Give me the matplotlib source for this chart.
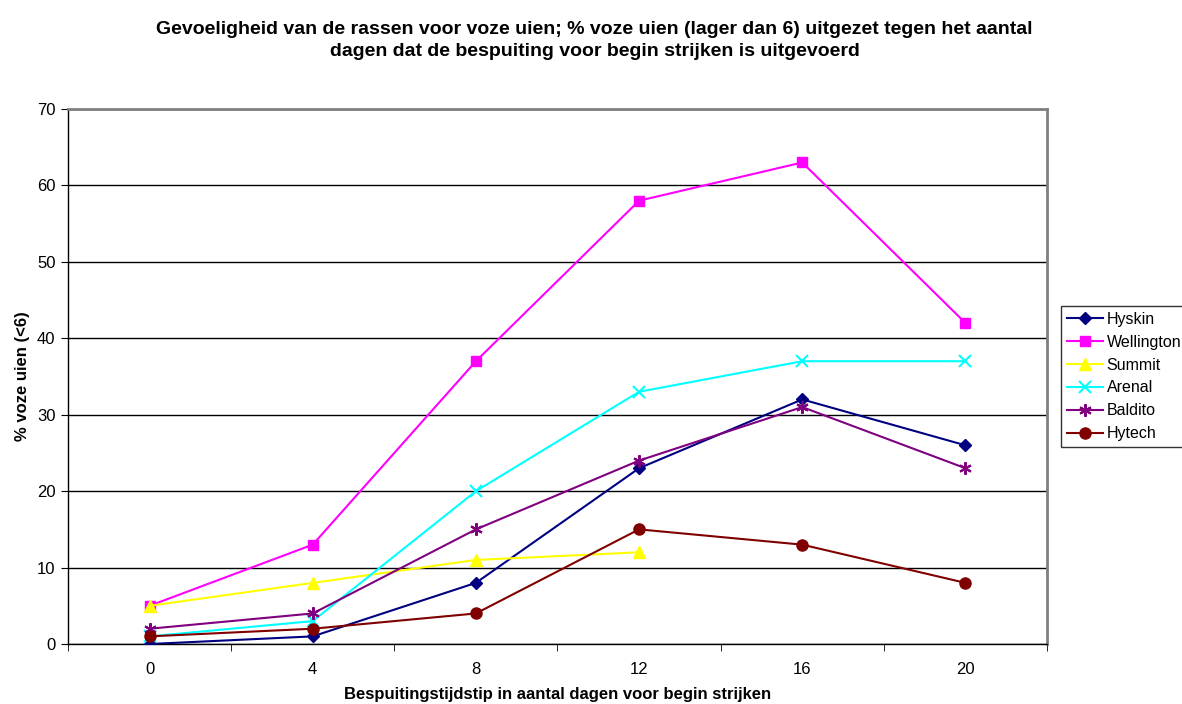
import matplotlib
matplotlib.use("Agg")
import matplotlib.pyplot as plt
import numpy as np

plt.rcParams['font.family'] = ['Liberation Sans', 'DejaVu Sans']

days = ["0", "4", "8", "12", "16", "20"]
hyskin = [0, 1, 8, 23, 32, 26]
wellington = [5, 13, 37, 58, 63, 42]
summit = [5, 8, 11, 12]
arenal = [1, 3, 20, 33, 37, 37]
baldito = [2, 4, 15, 24, 31, 23]
hytech = [1, 2, 4, 15, 13, 8]

series = [
    ("Hyskin", hyskin, "#000080", "D", 6),
    ("Wellington", wellington, "#FF00FF", "s", 7),
    ("Summit", summit, "#FFFF00", "^", 8),
    ("Arenal", arenal, "#00FFFF", "x", 8),
    ("Baldito", baldito, "#800080", (6, 2, 0), 9),
    ("Hytech", hytech, "#800000", "o", 8),
]

fig = plt.figure(figsize=(11.82, 7.04), dpi=100)
ax = fig.add_axes([0.0575, 0.0852, 0.8283, 0.76])

x = np.arange(len(days))
for name, vals, col, mk, ms in series:
    xs = x[:len(vals)]
    if mk == "x" or isinstance(mk, tuple):
        ax.plot(xs, vals, color=col, lw=1.5, marker=mk, ms=ms, mew=1.5,
                mec=col, label=name, zorder=3)
    else:
        ax.plot(xs, vals, color=col, lw=1.5, marker=mk, ms=ms, mec=col,
                mfc=col, label=name, zorder=3)

ax.set_xlim(-0.5, 5.5)
ax.set_ylim(0, 70)
ax.set_yticks(range(0, 71, 10))
ax.set_xticks(x)
ax.set_xticklabels(days)
ax.set_xticks(np.arange(-0.5, 5.6, 1), minor=True)
ax.tick_params(axis='x', which='major', length=0, pad=13, labelsize=12)
ax.tick_params(axis='x', which='minor', length=5, direction='out', color='black')
ax.tick_params(axis='y', length=5, direction='out', labelsize=12, pad=4)
ax.yaxis.grid(True, color='black', lw=1)
ax.set_axisbelow(True)

for side in ("top", "right"):
    ax.spines[side].set_color('#808080')
    ax.spines[side].set_linewidth(2)
for side in ("left", "bottom"):
    ax.spines[side].set_color('black')
    ax.spines[side].set_linewidth(1)

ax.set_ylabel("% voze uien (<6)", fontsize=12, fontweight='bold', labelpad=5)
ax.set_xlabel("Bespuitingstijdstip in aantal dagen voor begin strijken",
              fontsize=12, fontweight='bold', labelpad=7)

fig.text(0.503, 0.943,
         "Gevoeligheid van de rassen voor voze uien; % voze uien (lager dan 6) uitgezet tegen het aantal\n"
         "dagen dat de bespuiting voor begin strijken is uitgevoerd",
         ha='center', va='center', fontsize=14, fontweight='bold', linespacing=1.4)

leg = ax.legend(loc='center left', bbox_to_anchor=(1.0143, 0.5), fontsize=11.5,
                frameon=True, fancybox=False, edgecolor='black',
                handlelength=2.3, borderpad=0.35, labelspacing=0.5,
                handletextpad=0.2, borderaxespad=0)
leg.get_frame().set_linewidth(1)

fig.savefig("out.png", dpi=100)
